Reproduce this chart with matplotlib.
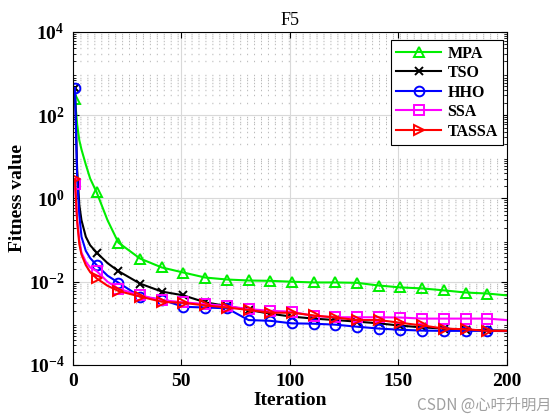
import matplotlib.pyplot as plt
import numpy as np
from matplotlib.ticker import LogLocator, NullFormatter

iters = [1, 2, 3, 4, 6, 8, 11, 16, 21, 31, 41, 51, 61, 71, 81, 91, 101,
         111, 121, 131, 141, 151, 161, 171, 181, 191, 200]

mpa = [250, 60, 25, 15, 6.5, 3.0, 1.4, 0.3, 0.087, 0.036, 0.022, 0.0166, 0.0126,
       0.0113, 0.0107, 0.0105, 0.010, 0.0096, 0.0096, 0.0094, 0.0081, 0.0073,
       0.0069, 0.0062, 0.0055, 0.0052, 0.0047]
tso = [450, 5, 0.7, 0.3, 0.12, 0.075, 0.05, 0.028, 0.018, 0.009, 0.0058, 0.0047,
       0.0032, 0.0026, 0.0021, 0.0017, 0.00145, 0.0013, 0.0012, 0.0011, 0.001,
       0.00088, 0.0008, 0.00075, 0.0007, 0.00068, 0.00067]
hho = [450, 3, 0.4, 0.12, 0.055, 0.037, 0.025, 0.014, 0.0095, 0.0044, 0.0037,
       0.0025, 0.0024, 0.0023, 0.0012, 0.00115, 0.001, 0.00098, 0.00093, 0.00083,
       0.00075, 0.0007, 0.00067, 0.00066, 0.00066, 0.00066, 0.00065]
ssa = [2.2, 0.3, 0.1, 0.05, 0.03, 0.022, 0.018, 0.01, 0.0068, 0.0047, 0.0036,
       0.0032, 0.0029, 0.0026, 0.0022, 0.002, 0.0019, 0.0015, 0.0014, 0.0014,
       0.0014, 0.00138, 0.0013, 0.0013, 0.0013, 0.0013, 0.0012]
tassa = [2.9, 0.28, 0.08, 0.045, 0.025, 0.017, 0.012, 0.008, 0.006, 0.0044,
         0.0033, 0.0031, 0.0027, 0.0024, 0.0021, 0.0018, 0.0018, 0.00155, 0.00138,
         0.0012, 0.0012, 0.00103, 0.00089, 0.00075, 0.00072, 0.00066, 0.00066]

series = [
    ("MPA", mpa, "#00ee00", "^"),
    ("TSO", tso, "black", "x"),
    ("HHO", hho, "blue", "o"),
    ("SSA", ssa, "magenta", "s"),
    ("TASSA", tassa, "red", ">"),
]

plt.rcParams['font.family'] = ['Liberation Serif', 'DejaVu Serif']
plt.rcParams['mathtext.fontset'] = 'custom'
plt.rcParams['mathtext.rm'] = 'Liberation Serif:bold'
plt.rcParams['mathtext.it'] = 'Liberation Serif:bold'
plt.rcParams['mathtext.bf'] = 'Liberation Serif:bold'

fig = plt.figure(figsize=(5.6, 4.2), dpi=100)
ax = fig.add_axes([0.130, 0.131, 0.775, 0.793])

it = np.array(iters)
marks = [i for i, v in enumerate(it) if (v - 1) % 10 == 0 and v <= 191]

for name, vals, col, mk in series:
    ax.plot(it, vals, color=col, lw=1.5, marker=mk, markevery=marks,
            markersize=7 if mk != "x" else 5.5, markerfacecolor="none",
            markeredgecolor=col, markeredgewidth=1.4, label=name)

ax.set_yscale("log")
ax.set_xlim(0, 200)
ax.set_ylim(1e-4, 1e4)
ax.set_xticks([0, 50, 100, 150, 200])
ax.set_yticks([1e-4, 1e-2, 1e0, 1e2, 1e4])
ax.set_yticklabels([r"$10^{-4}$", r"$10^{-2}$", r"$10^{0}$", r"$10^{2}$", r"$10^{4}$"])
ax.yaxis.set_minor_locator(LogLocator(base=10, subs=np.arange(2, 10), numticks=20))
ax.yaxis.set_minor_formatter(NullFormatter())

ax.grid(True, which="major", color="#d9d9d9", lw=0.8, ls="-")
ax.grid(True, axis="y", which="minor", color="#b8b8b8", lw=1.0, ls=(0, (0.7, 4.3)))
ax.set_axisbelow(True)

ax.tick_params(which="both", direction="in", top=True, right=True)
ax.tick_params(which="major", length=4, labelsize=14, pad=6)
ax.tick_params(axis="y", which="minor", length=2)
for lab in ax.get_xticklabels():
    lab.set_fontweight("bold")

ax.set_xlabel("Iteration", fontsize=14, fontweight="bold", labelpad=1)
ax.set_ylabel("Fitness value", fontsize=14, fontweight="bold", labelpad=2)
ax.set_title("F5", fontsize=13, pad=5)

leg = ax.legend(loc="upper right", bbox_to_anchor=(0.992, 0.976), fancybox=False,
                edgecolor="black", framealpha=1, prop={"weight": "bold", "size": 11.5},
                handlelength=2.8, borderaxespad=0, labelspacing=0.22,
                borderpad=0.35, handletextpad=0.4)
leg.get_frame().set_linewidth(0.8)

fig.text(0.985, 0.015, "CSDN @心吁升明月", ha="right", va="bottom", fontsize=11,
         color="#a0a0a0", family=["Noto Sans CJK SC", "DejaVu Sans"])

fig.savefig("out.png", dpi=100)
